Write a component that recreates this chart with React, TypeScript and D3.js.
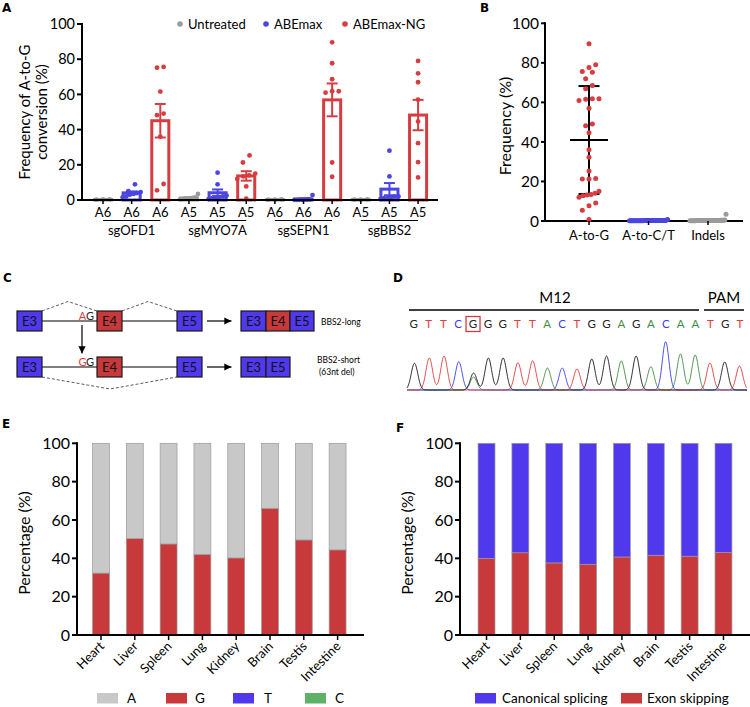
import React from 'react';
import * as d3 from 'd3';

const FONT = "Lato, 'Open Sans', 'DejaVu Sans', sans-serif";

// ---------------- Panel A data ----------------
const groupsA = ['sgOFD1', 'sgMYO7A', 'sgSEPN1', 'sgBBS2'];
const sitesA = ['A6', 'A5', 'A6', 'A5'];
const seriesA = ['Untreated', 'ABEmax', 'ABEmax-NG'];
const untreatedA = [
  [0.3, 0.2, 0.4],
  [3.4, 1.5, 1.0, 0.8, 0.5, 0.4, 1.2, 0.6],
  [0.2, 0.2, 0.3],
  [0.2, 0.3, 0.2],
];
const abemaxA = [
  [8.9, 5.0, 4.5, 4.0, 3.5, 3.0, 2.0, 1.5],
  [15.5, 8.9, 2.5, 2.0, 1.5, 1.0, 0.5, 1.0],
  [2.8, 0.4, 0.3, 0.2, 0.2, 0.1, 0.1, 0.1],
  [28.0, 13.4, 2.0, 1.5, 1.0, 0.5, 1.0, 2.0],
];
const abemaxNgA = [
  [75.2, 75.6, 61.6, 49.1, 48.2, 36.0, 9.1, 5.5],
  [25.3, 21.3, 15.0, 14.0, 13.4, 12.0, 7.7, 0.7],
  [89.6, 77.7, 68.6, 61.8, 61.0, 61.8, 21.3, 13.2],
  [79.0, 72.0, 66.9, 57.0, 44.6, 32.3, 21.5, 12.8],
];
const ticksA = [0, 20, 40, 60, 80, 100];

// ---------------- Panel B data ----------------
const catsB = ['A-to-G', 'A-to-C/T', 'Indels'];
const aToCTB = [0.1, 0.2, 0.1, 0.3, 0.2, 0.1, 0.2, 0.1, 0.3, 0.2, 0.1, 0.2, 0.1, 0.2, 0.3, 0.1,
  0.2, 0.1, 0.2, 0.3, 0.1, 0.2, 0.1, 0.2, 0.1, 0.3, 0.2, 0.1, 0.2, 0.3, 0.4, 0.8];
const indelsB = [0.2, 0.3, 0.1, 0.2, 0.4, 0.2, 0.3, 0.1, 0.2, 0.3, 0.2, 0.1, 0.4, 0.2, 0.3, 0.2,
  0.1, 0.3, 0.2, 0.2, 0.4, 0.1, 0.3, 0.2, 0.2, 0.3, 0.1, 0.2, 0.4, 0.3, 0.5, 3.4];
const ticksB = [0, 20, 40, 60, 80, 100];

// ---------------- Panel D data ----------------
const seqD = 'GTTCGGGTTACTGGAGACAATGT';
const peakHeightsD = [26.7, 32, 34, 28.3, 17, 32, 32, 27.3, 29.3, 22, 22, 21, 31, 34, 29, 34, 23.3, 48.3, 36, 35, 27, 28, 24];
const secondaryPeaksD = [{ index: 4, base: 'A', height: 13 }];
const editedIndexD = 4;

// ---------------- Panel E / F data ----------------
const tissues = ['Heart', 'Liver', 'Spleen', 'Lung', 'Kidney', 'Brain', 'Testis', 'Intestine'];
const baseKeysE = ['G', 'T', 'C', 'A'];
const gE = [32.3, 50.3, 47.5, 42.1, 40.2, 66.1, 49.6, 44.4];
const tE = [0, 0, 0, 0, 0, 0, 0, 0];
const cE = [0, 0, 0, 0, 0, 0, 0, 0];
const aE = [67.7, 49.7, 52.5, 57.9, 59.8, 33.9, 50.4, 55.6];
const legendE = ['A', 'G', 'T', 'C'];
const exonSkipF = [40.0, 42.9, 37.6, 36.9, 40.7, 41.6, 41.1, 43.1];
const canonicalF = [60.0, 57.1, 62.4, 63.1, 59.3, 58.4, 58.9, 56.9];
const legendF = ['Canonical splicing', 'Exon skipping'];
const ticksEF = [0, 20, 40, 60, 80, 100];

// ---------------- colours ----------------
const RED_A = '#d63c40';
const BLUE_A = '#4b45e2';
const GRAY_A = '#9b9b9b';
const RED = '#c8393b';
const BLUE = '#5038ec';
const LGRAY = '#c8c8c8';
const GREEN = '#5fb068';
const baseColor: Record<string, string> = { G: '#1c1c1c', T: '#e03c3c', C: '#3b3bf0', A: '#3f8f3f' };

function rowSwarm(values: number[], py: (v: number) => number, d: number, maxHalf: number): number[] {
  const order = values.map((_, i) => i).sort((a, b) => values[b] - values[a]);
  const out = new Array(values.length).fill(0);
  let row: number[] = [];
  let rowY = 0;
  const flush = () => {
    if (!row.length) return;
    const n = row.length;
    const sorted = [...row].sort((a, b) => values[a] - values[b]);
    const step = n > 1 ? Math.min(d, (2 * maxHalf) / (n - 1)) : 0;
    sorted.forEach((idx, j) => { out[idx] = (j - (n - 1) / 2) * step; });
    row = [];
  };
  for (const i of order) {
    const y = py(values[i]);
    if (row.length && Math.abs(y - rowY) < d + 0.5) row.push(i);
    else { flush(); row = [i]; rowY = y; }
  }
  flush();
  return out;
}

function PanelLabel({ x, y, t }: { x: number; y: number; t: string }) {
  return <text x={x} y={y} fontSize={12} fontWeight={700} fontFamily="'DejaVu Sans', sans-serif">{t}</text>;
}

function YAxis({ x, scale, ticks, fontSize, tickLen = 5 }: { x: number; scale: d3.ScaleLinear<number, number>; ticks: number[]; fontSize: number; tickLen?: number }) {
  const [r0, r1] = scale.range();
  return (
    <g>
      <line x1={x} x2={x} y1={Math.max(r0, r1) + 1} y2={Math.min(r0, r1) - 1} stroke="#000" strokeWidth={2} />
      {ticks.map(t => (
        <g key={t}>
          <line x1={x - tickLen} x2={x} y1={scale(t)} y2={scale(t)} stroke="#000" strokeWidth={2} />
          <text x={x - tickLen - 2} y={scale(t)} dy="0.36em" textAnchor="end" fontSize={fontSize} fontFamily={FONT}>{t}</text>
        </g>
      ))}
    </g>
  );
}

// ---------------- Panel A ----------------
function PanelA() {
  const y = d3.scaleLinear().domain([0, 100]).range([200, 24]);
  const slots = d3.range(12);
  const x = d3.scaleBand<number>().domain(slots).range([88.7, 432.4]).paddingInner(0.3).paddingOuter(0.15);
  const bw = x.bandwidth();
  const colors = [GRAY_A, BLUE_A, RED_A];
  const all = [untreatedA, abemaxA, abemaxNgA];
  const items: { slot: number; vals: number[]; color: string; label: string }[] = [];
  groupsA.forEach((g, gi) => {
    seriesA.forEach((s, si) => {
      items.push({ slot: gi * 3 + si, vals: all[si][gi], color: colors[si], label: sitesA[gi] });
    });
  });
  const cx = (s: number) => (x(s) as number) + bw / 2;
  return (
    <g>
      <PanelLabel x={2} y={12} t="A" />
      {/* legend */}
      {seriesA.map((s, i) => {
        const lx = [180, 266, 345][i];
        return (
          <g key={s}>
            <circle cx={lx} cy={24} r={2.8} fill={colors[i]} />
            <text x={lx + 8} y={28.5} fontSize={13} fontFamily={FONT}>{s}</text>
          </g>
        );
      })}
      {/* bars */}
      {items.map(it => {
        const m = d3.mean(it.vals) as number;
        return (
          <rect key={'b' + it.slot} x={cx(it.slot) - bw / 2 + 1.5} width={bw - 3}
            y={y(m)} height={Math.max(0.01, y(0) - y(m))} fill="none" stroke={it.color} strokeWidth={3} />
        );
      })}
      {/* dots */}
      {items.map(it => {
        const offs = rowSwarm(it.vals, y, 6.6, 9);
        return it.vals.map((v, i) => (
          <circle key={'d' + it.slot + '-' + i} cx={cx(it.slot) + offs[i]} cy={y(v)} r={2.4} fill={it.color} />
        ));
      })}
      {/* error bars */}
      {items.map(it => {
        const m = d3.mean(it.vals) as number;
        const sem = (d3.deviation(it.vals) as number) / Math.sqrt(it.vals.length);
        const c = cx(it.slot);
        return (
          <g key={'e' + it.slot} stroke={it.color} strokeWidth={2}>
            <line x1={c} x2={c} y1={y(m + sem)} y2={y(Math.max(0, m - sem))} />
            <line x1={c - 5.5} x2={c + 5.5} y1={y(m + sem)} y2={y(m + sem)} />
            <line x1={c - 5.5} x2={c + 5.5} y1={y(Math.max(0, m - sem))} y2={y(Math.max(0, m - sem))} />
          </g>
        );
      })}
      {/* axes */}
      <line x1={81} x2={438} y1={200} y2={200} stroke="#000" strokeWidth={2} />
      {items.map(it => (
        <g key={'t' + it.slot}>
          <line x1={cx(it.slot)} x2={cx(it.slot)} y1={200} y2={204} stroke="#000" strokeWidth={1.5} />
          <text x={cx(it.slot)} y={217} textAnchor="middle" fontSize={13} fontFamily={FONT}>{it.label}</text>
        </g>
      ))}
      {groupsA.map((g, gi) => (
        <g key={g}>
          <line x1={cx(gi * 3)} x2={cx(gi * 3 + 2)} y1={220.5} y2={220.5} stroke="#000" strokeWidth={1.2} />
          <text x={cx(gi * 3 + 1)} y={235} textAnchor="middle" fontSize={13} fontFamily={FONT}>{g}</text>
        </g>
      ))}
      <YAxis x={82} scale={y} ticks={ticksA} fontSize={14.5} />
      <g transform="translate(30,112) rotate(-90)">
        <text textAnchor="middle" fontSize={15} fontFamily={FONT}>Frequency of A-to-G</text>
        <text y={17} textAnchor="middle" fontSize={15} fontFamily={FONT}>conversion (%)</text>
      </g>
    </g>
  );
}

// ---------------- Panel B ----------------
function PanelB() {
  const y = d3.scaleLinear().domain([0, 100]).range([221, 23.3]);
  const x = d3.scalePoint<string>().domain(catsB).range([589, 708]);
  const cols = [
    { cat: catsB[0], vals: abemaxNgA.flat(), color: RED_A, half: 10 },
    { cat: catsB[1], vals: aToCTB, color: BLUE_A, half: 19 },
    { cat: catsB[2], vals: indelsB, color: GRAY_A, half: 18 },
  ];
  return (
    <g>
      <PanelLabel x={480} y={12} t="B" />
      {cols.map(c => {
        const cx = x(c.cat) as number;
        const m = d3.mean(c.vals) as number;
        const sd = d3.deviation(c.vals) as number;
        return (
          <g key={'e' + c.cat} stroke="#000" strokeWidth={2}>
            <line x1={cx} x2={cx} y1={y(m + sd)} y2={y(Math.max(0, m - sd))} />
            <line x1={cx - 19} x2={cx + 19} y1={y(m)} y2={y(m)} />
            <line x1={cx - 10.5} x2={cx + 10.5} y1={y(m + sd)} y2={y(m + sd)} />
            <line x1={cx - 10.5} x2={cx + 10.5} y1={y(Math.max(0, m - sd))} y2={y(Math.max(0, m - sd))} />
          </g>
        );
      })}
      <line x1={544} x2={743} y1={221} y2={221} stroke="#000" strokeWidth={2} />
      {cols.map(c => {
        const cx = x(c.cat) as number;
        const offs = rowSwarm(c.vals, y, 6.7, c.half);
        return c.vals.map((v, i) => (
          <circle key={c.cat + i} cx={cx + offs[i]} cy={y(v)} r={2.5} fill={c.color} />
        ));
      })}
      {catsB.map(cat => (
        <g key={cat}>
          <line x1={x(cat)} x2={x(cat)} y1={221} y2={225} stroke="#000" strokeWidth={1.5} />
          <text x={x(cat)} y={240} textAnchor="middle" fontSize={13} fontFamily={FONT}>{cat}</text>
        </g>
      ))}
      <YAxis x={545} scale={y} ticks={ticksB} fontSize={15.5} tickLen={4} />
      <g transform="translate(511,126) rotate(-90)">
        <text textAnchor="middle" fontSize={16} fontFamily={FONT}>Frequency (%)</text>
      </g>
    </g>
  );
}

// ---------------- Panel C ----------------
function Exon({ x, y, w, t, fill }: { x: number; y: number; w: number; t: string; fill: string }) {
  return (
    <g>
      <rect x={x} y={y} width={w} height={20} fill={fill} stroke="#1a1a1a" strokeWidth={1.2} />
      <text x={x + w / 2} y={y + 10} dy="0.36em" textAnchor="middle" fontSize={13} fontFamily={FONT} fill="#111">{t}</text>
    </g>
  );
}

function PanelC() {
  const row1 = 311, row2 = 357;
  return (
    <g>
      <defs>
        <marker id="arr" viewBox="0 0 10 10" refX="10" refY="5" markerWidth="6" markerHeight="6" orient="auto">
          <path d="M0,0 L10,5 L0,10 z" fill="#000" />
        </marker>
      </defs>
      <PanelLabel x={3} y={282} t="C" />
      {/* row 1 */}
      <polyline points={`42,${row1} 68,301.5 97,${row1}`} fill="none" stroke="#333" strokeWidth={0.8} strokeDasharray="3,2" />
      <polyline points={`122,${row1} 148,301.5 177,${row1}`} fill="none" stroke="#333" strokeWidth={0.8} strokeDasharray="3,2" />
      <line x1={42} x2={97} y1={row1 + 10} y2={row1 + 10} stroke="#000" strokeWidth={1.2} />
      <line x1={122} x2={177} y1={row1 + 10} y2={row1 + 10} stroke="#000" strokeWidth={1.2} />
      <Exon x={17} y={row1} w={25} t="E3" fill={BLUE} />
      <Exon x={97} y={row1} w={25} t="E4" fill={RED} />
      <Exon x={177} y={row1} w={25} t="E5" fill={BLUE} />
      <text x={82.5} y={320} textAnchor="middle" fontSize={11} fontFamily={FONT} fill="#e03c3c">A</text>
      <text x={90} y={320} textAnchor="middle" fontSize={11} fontFamily={FONT} fill="#222">G</text>
      <line x1={207} x2={231.5} y1={row1 + 10} y2={row1 + 10} stroke="#000" strokeWidth={1.2} markerEnd="url(#arr)" />
      <Exon x={241} y={row1} w={25} t="E3" fill={BLUE} />
      <Exon x={266} y={row1} w={24} t="E4" fill={RED} />
      <Exon x={290} y={row1} w={24} t="E5" fill={BLUE} />
      <text x={321} y={325} fontSize={8.5} fontFamily={FONT}>BBS2-long</text>
      {/* vertical arrow */}
      <line x1={82} x2={82} y1={325} y2={353.5} stroke="#000" strokeWidth={1.2} markerEnd="url(#arr)" />
      {/* row 2 */}
      <polyline points={`42,${row2 + 20} 110,389 177,${row2 + 20}`} fill="none" stroke="#333" strokeWidth={0.8} strokeDasharray="3,2" />
      <line x1={42} x2={97} y1={row2 + 10} y2={row2 + 10} stroke="#000" strokeWidth={1.2} />
      <line x1={122} x2={177} y1={row2 + 10} y2={row2 + 10} stroke="#000" strokeWidth={1.2} />
      <Exon x={17} y={row2} w={25} t="E3" fill={BLUE} />
      <Exon x={97} y={row2} w={25} t="E4" fill={RED} />
      <Exon x={177} y={row2} w={25} t="E5" fill={BLUE} />
      <text x={82.5} y={366} textAnchor="middle" fontSize={11} fontFamily={FONT} fill="#e03c3c">G</text>
      <text x={90} y={366} textAnchor="middle" fontSize={11} fontFamily={FONT} fill="#222">G</text>
      <line x1={207} x2={231.5} y1={row2 + 10} y2={row2 + 10} stroke="#000" strokeWidth={1.2} markerEnd="url(#arr)" />
      <Exon x={241} y={row2} w={25} t="E3" fill={BLUE} />
      <Exon x={266} y={row2} w={24} t="E5" fill={BLUE} />
      <text x={317} y={363} fontSize={8.5} fontFamily={FONT}>BBS2-short</text>
      <text x={319} y={375} fontSize={8.5} fontFamily={FONT}>(63nt del)</text>
    </g>
  );
}

// ---------------- Panel D ----------------
function PanelD() {
  const letters = seqD.split('');
  const xl = d3.scaleLinear().domain([0, letters.length - 1]).range([413.7, 740]);
  const xp = d3.scaleLinear().domain([0, letters.length - 1]).range([414.5, 739.5]);
  const h = d3.scaleLinear().domain([0, 50]).range([0, 50]);
  const base = 390;
  const sigma = 3.3;
  const peaks: { x: number; h: number; b: string }[] = letters.map((b, i) => ({ x: xp(i), h: h(peakHeightsD[i]), b }));
  secondaryPeaksD.forEach(p => peaks.push({ x: xp(p.index), h: h(p.height), b: p.base }));
  const xs = d3.range(407, 747.5, 0.5);
  const line = d3.line<[number, number]>().x(d => d[0]).y(d => d[1]);
  const channels = ['A', 'C', 'T', 'G'];
  return (
    <g>
      <PanelLabel x={393} y={282} t="D" />
      <text x={555} y={303} textAnchor="middle" fontSize={15} fontFamily={FONT}>M12</text>
      <text x={724} y={303} textAnchor="middle" fontSize={15} fontFamily={FONT}>PAM</text>
      <line x1={409} x2={699} y1={310} y2={310} stroke="#000" strokeWidth={1.5} />
      <line x1={704} x2={744} y1={310} y2={310} stroke="#000" strokeWidth={1.5} />
      {letters.map((b, i) => (
        <text key={i} x={xl(i)} y={328} textAnchor="middle" fontSize={11.5} fontFamily={FONT} fill={baseColor[b] === '#1c1c1c' ? '#222' : baseColor[b]}>{b}</text>
      ))}
      <rect x={xl(editedIndexD) - 7} y={316.5} width={14} height={15} fill="none" stroke="#d63c40" strokeWidth={1.3} />
      {channels.map(ch => {
        const pk = peaks.filter(p => p.b === ch);
        const pts: [number, number][] = xs.map(xx => [xx, base - d3.sum(pk, p => p.h * Math.exp(-((xx - p.x) ** 2) / (2 * sigma * sigma)))]);
        return <path key={ch} d={line(pts) as string} fill="none" stroke={baseColor[ch]} strokeWidth={0.9} />;
      })}
    </g>
  );
}

// ---------------- Panel E ----------------
function StackPanel({ axisX, rangeX, xEnd, keys, table, colors, label, lx, ly, legend }: {
  axisX: number; rangeX: [number, number]; xEnd: number; keys: string[]; table: Record<string, number | string>[];
  colors: Record<string, string>; label: string; lx: number; ly: number;
  legend: { key: string; text: string; sx: number; tx: number }[];
}) {
  const y = d3.scaleLinear().domain([0, 100]).range([635, 443.3]);
  const x = d3.scaleBand<string>().domain(tissues).range(rangeX).paddingInner(0.5).paddingOuter(0.25);
  const series = d3.stack<Record<string, number | string>>().keys(keys)(table as any);
  return (
    <g>
      <PanelLabel x={lx} y={ly} t={label} />
      {series.map(s => (
        <g key={s.key}>
          {s.map((d, i) => (d[1] - d[0] > 0 ? (
            <rect key={i} x={x(tissues[i])} width={x.bandwidth()} y={y(d[1])} height={y(d[0]) - y(d[1])}
              fill={colors[s.key]} stroke="#9a9a9a" strokeWidth={0.7} />
          ) : null))}
        </g>
      ))}
      <line x1={axisX - 1} x2={xEnd} y1={635} y2={635} stroke="#000" strokeWidth={2} />
      {tissues.map(t => {
        const cx = (x(t) as number) + x.bandwidth() / 2;
        return (
          <g key={t}>
            <line x1={cx} x2={cx} y1={635} y2={640} stroke="#000" strokeWidth={1.5} />
            <text transform={`translate(${cx + 4},${647}) rotate(-45)`} textAnchor="end" fontSize={13} fontFamily={FONT}>{t}</text>
          </g>
        );
      })}
      <YAxis x={axisX} scale={y} ticks={ticksEF} fontSize={16} tickLen={5} />
      <g transform={`translate(${axisX - 47},543) rotate(-90)`}>
        <text textAnchor="middle" fontSize={16} fontFamily={FONT}>Percentage (%)</text>
      </g>
      {legend.map(l => (
        <g key={l.key}>
          <rect x={l.sx} y={693} width={21} height={10.5} fill={colors[l.key]} />
          <text x={l.tx} y={703} fontSize={13.5} fontFamily={FONT}>{l.text}</text>
        </g>
      ))}
    </g>
  );
}

function PanelE() {
  const table = tissues.map((t, i) => ({ tissue: t, G: gE[i], T: tE[i], C: cE[i], A: aE[i] }));
  const colors = { A: LGRAY, G: RED, T: BLUE, C: GREEN };
  const sx = [97, 166, 233, 305];
  const tx = [127, 195, 264, 335];
  return (
    <StackPanel axisX={77} rangeX={[84.1, 354.5]} xEnd={364} keys={baseKeysE} table={table} colors={colors}
      label="E" lx={2} ly={428}
      legend={legendE.map((k, i) => ({ key: k, text: k, sx: sx[i], tx: tx[i] }))} />
  );
}

function PanelF() {
  const table = tissues.map((t, i) => ({ tissue: t, skip: exonSkipF[i], canon: canonicalF[i] }));
  const colors = { canon: BLUE, skip: RED };
  return (
    <StackPanel axisX={460} rangeX={[469.6, 740.4]} xEnd={750} keys={['skip', 'canon']} table={table} colors={colors}
      label="F" lx={396} ly={432}
      legend={[{ key: 'canon', text: legendF[0], sx: 475, tx: 502 }, { key: 'skip', text: legendF[1], sx: 621, tx: 647 }]} />
  );
}

export default function App() {
  return (
    <svg width={750} height={707} viewBox="0 0 750 707"
      style={{ position: 'absolute', left: 0, top: 0, background: '#fff' }}>
      <rect width={750} height={707} fill="#fff" />
      <PanelA />
      <PanelB />
      <PanelC />
      <PanelD />
      <PanelE />
      <PanelF />
    </svg>
  );
}
